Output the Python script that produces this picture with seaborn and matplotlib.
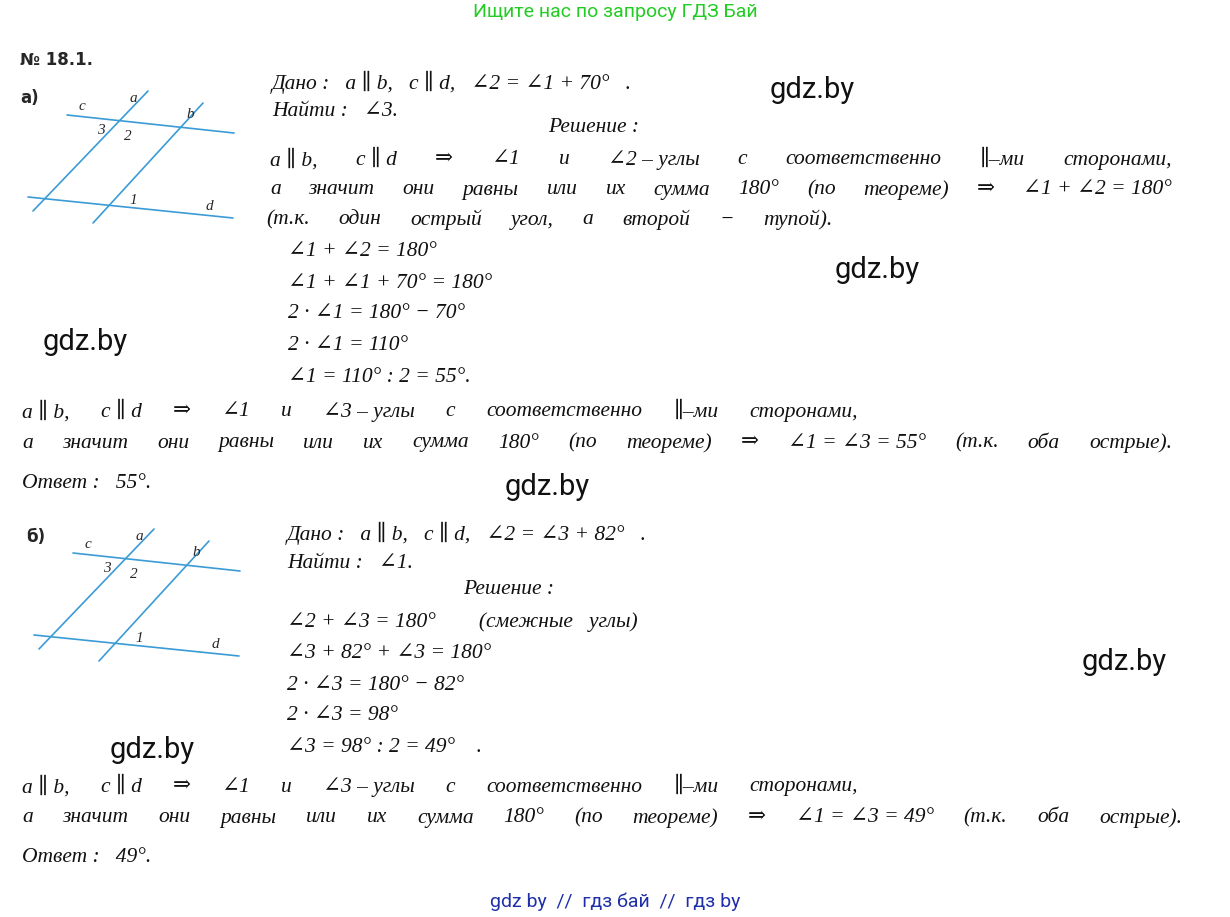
import matplotlib
matplotlib.use("Agg")
import matplotlib.pyplot as plt
import seaborn as sns

sns.set_theme(style="white")
plt.rcParams['font.family'] = ['Liberation Serif', 'DejaVu Serif']

W, H = 1230, 917

# segments of the drawings (pixel coords) for part a; part b is shifted
seg_lines = [((67, 115), (234, 133)), ((28, 197), (233, 218)),
             ((33, 211), (148, 91)), ((93, 223), (203, 103))]
seg_labels = [("c", 82, 106), ("a", 133, 98), ("b", 190, 115), ("d", 209, 207),
              ("3", 101, 130), ("2", 128, 136), ("1", 133, 200)]
shifts = [(0, 0), (6, 438)]

plain_a = [(272, 82, "Дано :   a ∥ b,   c ∥ d,   ∠2 = ∠1 + 70°   ."),
           (272, 112, "Найти :   ∠3."),
           (548, 127, "Решение :"),
           (288, 252, "∠1 + ∠2 = 180°"),
           (288, 283, "∠1 + ∠1 + 70° = 180°"),
           (288, 314, "2 · ∠1 = 180° − 70°"),
           (288, 345, "2 · ∠1 = 110°"),
           (288, 377, "∠1 = 110° : 2 = 55°."),
           (22, 483, "Ответ :   55°.")]
plain_b = [(287, 533, "Дано :   a ∥ b,   c ∥ d,   ∠2 = ∠3 + 82°   ."),
           (287, 563, "Найти :   ∠1."),
           (463, 590, "Решение :"),
           (287, 622, "∠2 + ∠3 = 180°        (смежные   углы)"),
           (287, 653, "∠3 + 82° + ∠3 = 180°"),
           (287, 685, "2 · ∠3 = 180° − 82°"),
           (287, 716, "2 · ∠3 = 98°"),
           (287, 747, "∠3 = 98° : 2 = 49°    ."),
           (22, 857, "Ответ :   49°.")]

just = [(270, 1172, 160, "a ∥ b,|c ∥ d|⇒|∠1|и|∠2 – углы|с|соответственно|∥–ми|сторонами,"),
        (270, 1172, 190, "а|значит|они|равны|или|их|сумма|180°|(по|теореме)|⇒|∠1 + ∠2 = 180°"),
        (266, 832, 220, "(т.к.|один|острый|угол,|а|второй|−|тупой)."),
        (22, 858, 412, "a ∥ b,|c ∥ d|⇒|∠1|и|∠3 – углы|с|соответственно|∥–ми|сторонами,"),
        (22, 1172, 443, "а|значит|они|равны|или|их|сумма|180°|(по|теореме)|⇒|∠1 = ∠3 = 55°|(т.к.|оба|острые)."),
        (22, 858, 787, "a ∥ b,|c ∥ d|⇒|∠1|и|∠3 – углы|с|соответственно|∥–ми|сторонами,"),
        (22, 1182, 818, "а|значит|они|равны|или|их|сумма|180°|(по|теореме)|⇒|∠1 = ∠3 = 49°|(т.к.|оба|острые).")]

marks = [(770, 90), (835, 270), (43, 342), (505, 487), (1082, 662), (110, 750)]

fig = plt.figure(figsize=(W / 100, H / 100), dpi=100)
ax = fig.add_axes([0, 0, 1, 1])
ax.set_xlim(0, W)
ax.set_ylim(H, 0)
ax.axis('off')

tf = dict(fontsize=15.5, style='italic', va='center', color='#111111')
bf = dict(fontsize=12, weight='bold', va='center', family=['DejaVu Sans'])

for dx, dy in shifts:
    for (x0, y0), (x1, y1) in seg_lines:
        ax.plot([x0 + dx, x1 + dx], [y0 + dy, y1 + dy], color='#3b9bd6', lw=1.2)
    for s, x, y in seg_labels:
        ax.text(x + dx, y + dy, s, fontsize=11, style='italic', ha='center', va='center')

for x, y, s in plain_a + plain_b:
    ax.text(x, y, s, **tf)

fig.canvas.draw()
r = fig.canvas.get_renderer()
for x0, x1, y, s in just:
    toks = s.split("|")
    ts = [ax.text(0, y, t, **tf) for t in toks]
    ws = [t.get_window_extent(r).width for t in ts]
    gap = (x1 - x0 - sum(ws)) / (len(ts) - 1)
    x = x0
    for t, w in zip(ts, ws):
        t.set_x(x)
        x += w + gap

ax.text(615, 12, "Ищите нас по запросу ГДЗ Бай", fontsize=14, color='#22cc22',
        ha='center', va='center', family=['Roboto', 'DejaVu Sans'])
ax.text(20, 60, "№ 18.1.", **bf)
ax.text(20, 98, "а)", **bf)
ax.text(26, 537, "б)", **bf)
for x, y in marks:
    ax.text(x, y, "gdz.by", fontsize=21, va='center', family=['Roboto', 'DejaVu Sans'], color='#111111')
ax.text(615, 902, "gdz by  //  гдз бай  //  гдз by", fontsize=14, color='#1f2fa8',
        ha='center', va='center', family=['Roboto', 'DejaVu Sans'])

fig.savefig("out.png", dpi=100)
